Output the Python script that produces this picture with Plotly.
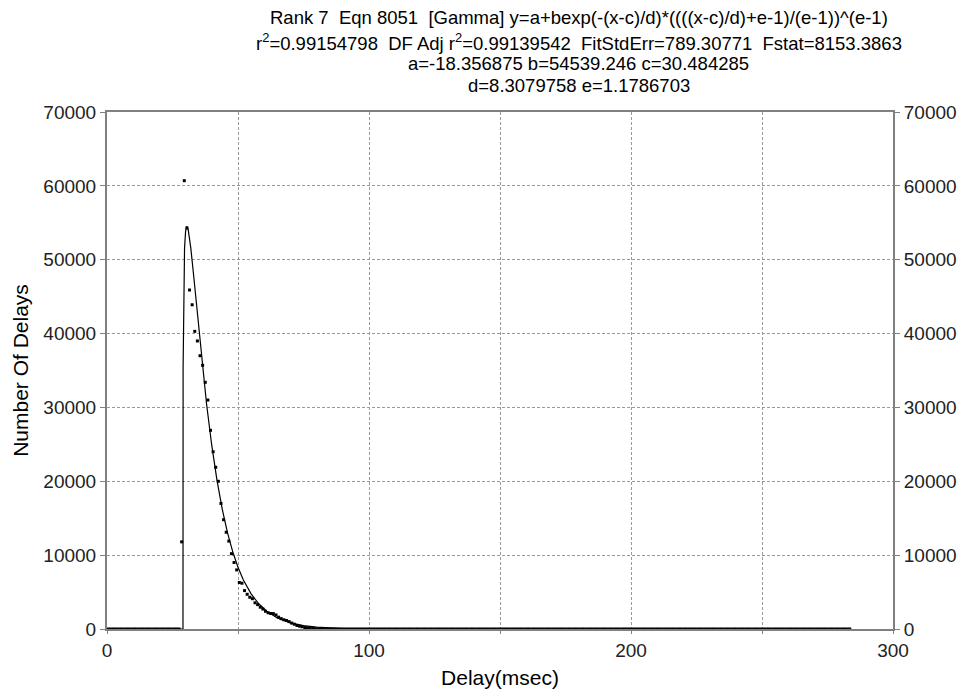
import plotly.graph_objects as go

# ---- data ----
# measured delays (bin centres, msec) with non-zero counts
delay_nz = [28.5, 29.5, 30.5, 31.5, 32.5, 33.5, 34.5, 35.5, 36.5, 37.5,
            38.5, 39.5, 40.5, 41.5, 42.5, 43.5, 44.5, 45.5, 46.5, 47.5,
            48.5, 49.5, 50.5, 51.5, 52.5, 53.5, 54.5, 55.5, 56.5, 57.5,
            58.5, 59.5, 60.5, 61.5, 62.5, 63.5, 64.5, 65.5, 66.5, 67.5,
            68.5, 69.5, 70.5, 71.5, 72.5, 73.5, 74.5, 75.5, 76.5, 77.5,
            78.5, 79.5, 80.5]
count_nz = [11800, 60700, 54300, 45900, 43900, 40300, 39000, 37000, 35700, 33400,
            31000, 26900, 24000, 21900, 20000, 17000, 14800, 13100, 11900, 10200,
            9000, 8000, 6300, 6200, 5200, 4700, 4300, 4100, 3550, 3300,
            2950, 2700, 2400, 2200, 2100, 2080, 1900, 1600, 1400, 1250,
            1150, 1000, 800, 650, 480, 380, 300, 200, 150, 100,
            60, 40, 20]
# bins with zero count: 0.5 .. 27.5 and 81.5 .. 283.5
zero_first = 0.5
zero_gap_end = 27.5
zero_tail_start = 81.5
zero_tail_end = 283.5

# fitted curve samples
fit_x = [0, 28.9, 29.0, 29.05, 29.3, 29.6, 30.0, 30.48, 31, 32, 33, 34, 35, 36, 37,
         38, 40, 42, 44, 46, 48, 50, 52, 55, 58, 61, 65, 70, 75, 80, 90, 100,
         120, 283.5]
fit_y = [-18, -18, 0, 35390, 47270, 51606, 53877, 54521, 54060, 51533, 48097,
         44376, 40647, 37047, 33634, 30457, 24817, 20097, 16206, 13025, 10446,
         8360, 6678, 4758, 3381, 2398, 1495, 830, 456, 247, 64, 7, -17, -18]

title_lines = [
    "Rank 7  Eqn 8051  [Gamma] y=a+bexp(-(x-c)/d)*((((x-c)/d)+e-1)/(e-1))^(e-1)",
    "r<sup>2</sup>=0.99154798  DF Adj r<sup>2</sup>=0.99139542  FitStdErr=789.30771  Fstat=8153.3863",
    "a=-18.356875 b=54539.246 c=30.484285",
    "d=8.3079758 e=1.1786703",
]
x_ticks = [0, 50, 100, 150, 200, 250, 300]
x_ticktext = ["0", "", "100", "", "200", "", "300"]
y_ticks = [0, 10000, 20000, 30000, 40000, 50000, 60000, 70000]

# build full data series
zeros_a = [zero_first + i for i in range(int(zero_gap_end - zero_first) + 1)]
zeros_b = [zero_tail_start + i for i in range(int(zero_tail_end - zero_tail_start) + 1)]
data_x = zeros_a + delay_nz + zeros_b
data_y = [0] * len(zeros_a) + count_nz + [0] * len(zeros_b)

FONT = "Liberation Sans, Arial, sans-serif"

fig = go.Figure()
fig.add_trace(go.Scatter(x=data_x, y=data_y, mode="markers",
                         marker=dict(symbol="square", size=3, color="black", line=dict(width=0)),
                         cliponaxis=False, showlegend=False))
fig.add_trace(go.Scatter(x=fit_x, y=fit_y, mode="lines",
                         line=dict(color="black", width=1.2),
                         cliponaxis=False, showlegend=False))
# invisible trace for right-side axis
fig.add_trace(go.Scatter(x=[0], y=[0], yaxis="y2", mode="markers",
                         marker=dict(opacity=0), hoverinfo="skip", showlegend=False))

# title lines (page pixel centres) relative to plot area 112..629
ys_px = [17, 42, 64, 85]
sizes = [18.5, 18.5, 18.5, 18.5]
for t, ypx, s in zip(title_lines, ys_px, sizes):
    fig.add_annotation(text=t, xref="paper", yref="paper", x=0.6,
                       y=(629 - ypx) / 517.0,
                       xanchor="center", yanchor="middle", showarrow=False,
                       font=dict(family=FONT, size=s, color="black"))

axis_common = dict(showline=True, linecolor="#808080", linewidth=2,
                   gridcolor="#9a9a9a", griddash="3px,2px", gridwidth=1,
                   zeroline=False, ticks="outside", ticklen=5, tickcolor="#808080",
                   automargin=False, tickformat="d",
                   tickfont=dict(family=FONT, size=19, color="#222222"))

fig.update_layout(
    width=959, height=682,
    margin=dict(l=99, r=74, t=104, b=61),
    paper_bgcolor="white", plot_bgcolor="white",
    font=dict(family=FONT, color="black"),
    xaxis=dict(range=[0, 300], tickvals=x_ticks, ticktext=x_ticktext,
               mirror=True, ticklen=3,
               title=dict(text="Delay(msec)", font=dict(family=FONT, size=21), standoff=11),
               **{k: v for k, v in axis_common.items() if k not in ("ticklen",)}),
    yaxis=dict(range=[0, 70000], tickvals=y_ticks, mirror=True,
               title=dict(text="Number Of Delays", font=dict(family=FONT, size=21), standoff=9),
               **axis_common),
    yaxis2=dict(range=[0, 70000], tickvals=y_ticks, overlaying="y", side="right",
                showgrid=False, **{k: v for k, v in axis_common.items() if k != "gridcolor"}),
)

fig.write_html("out.html")
